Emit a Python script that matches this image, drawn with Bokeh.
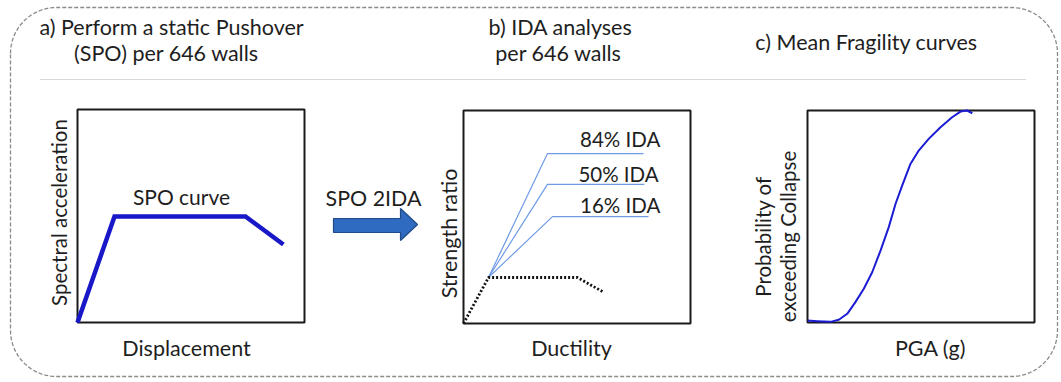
import numpy as np
from bokeh.plotting import figure
from bokeh.models import Range1d
from bokeh.core.properties import value
from bokeh.embed import file_html
from bokeh.resources import INLINE

W, H = 1061, 382
FONT = "Lato"
TXT = "#1e1e1e"

# ---------------- data (panel units, 0..1 of each box) ----------------
title_a = ["a) Perform a static Pushover", "(SPO) per 646 walls"]
title_b = ["b) IDA analyses", "per 646 walls"]
title_c = ["c) Mean Fragility curves"]

spo_disp = [0.0, 0.163, 0.740, 0.907]
spo_sa = [0.0, 0.498, 0.498, 0.366]

ida_base_mu = [0.0, 0.110, 0.502, 0.612]
ida_base_r = [0.0, 0.216, 0.216, 0.150]
ida_labels = ["84% IDA", "50% IDA", "16% IDA"]
ida_knee_mu = [0.370, 0.370, 0.392]
ida_end_mu = [0.793, 0.797, 0.815]
ida_level = [0.798, 0.653, 0.502]

frag_pga = [0.0, 0.043, 0.101, 0.138, 0.175, 0.211, 0.248, 0.285, 0.322, 0.358,
            0.388, 0.417, 0.454, 0.490, 0.534, 0.586, 0.637, 0.674, 0.703, 0.726]
frag_prob = [0.009, 0.006, 0.003, 0.013, 0.041, 0.096, 0.159, 0.237, 0.340, 0.450,
             0.560, 0.646, 0.749, 0.811, 0.866, 0.921, 0.968, 0.995, 1.0, 0.987]

# ---------------- layout (pixels) ----------------
BOX_A = (77, 109, 227, 213)
BOX_B = (463, 110, 227, 213)
BOX_C = (807, 110, 227, 212)


def place(box, xs, ys):
    l, t, w, h = box
    return [l + x * w for x in xs], [t + h - y * h for y in ys]


p = figure(width=W, height=H, x_range=Range1d(0, W), y_range=Range1d(H, 0),
           output_backend="svg", toolbar_location=None, min_border=0,
           background_fill_color="white", border_fill_color="white")
p.axis.visible = False
p.grid.visible = False
p.outline_line_color = None


def txt(x, y, s, size=21, angle=0.0, align="center"):
    p.text(x=[x], y=[y], text=[s], text_font=value(FONT), text_font_size=f"{size}px",
           text_color=TXT, text_align=align, text_baseline="middle", angle=angle)


# rounded dashed border
L, R, T, B, r = 10, 1057, 7, 376, 46
def arc(cx, cy, a0, a1):
    a = np.linspace(a0, a1, 20)
    return list(cx + r * np.cos(a)), list(cy + r * np.sin(a))
bx, by = [], []
for cx, cy, a0, a1 in [(L + r, T + r, np.pi, 1.5 * np.pi), (R - r, T + r, 1.5 * np.pi, 2 * np.pi),
                       (R - r, B - r, 0, 0.5 * np.pi), (L + r, B - r, 0.5 * np.pi, np.pi)]:
    ax, ay = arc(cx, cy, a0, a1)
    bx += ax
    by += ay
bx.append(bx[0]); by.append(by[0])
p.line(bx, by, line_color="#8a8a8a", line_width=1.3, line_dash="4 2")

# separator
p.line([40, 1025], [79, 79], line_color="#b0b0b0", line_width=1, line_dash="1 1")

# titles
txt(171, 26, title_a[0], 21.5)
txt(166, 52, title_a[1], 21.5)
txt(560, 26, title_b[0], 21.5)
txt(558, 52, title_b[1], 21.5)
txt(866, 41, title_c[0], 21.5)

# panel boxes
for (l, t, w, h) in [BOX_A, BOX_B, BOX_C]:
    p.quad(left=[l], right=[l + w], top=[t], bottom=[t + h], fill_color=None,
           line_color="#1a1a1a", line_width=2)

# panel a
xa, ya = place(BOX_A, spo_disp, spo_sa)
p.line(xa, ya, line_color="#1818c8", line_width=4.5, line_join="miter")
txt(181, 196, "SPO curve", 21)
txt(186, 347, "Displacement", 21.5)
txt(58, 212, "Spectral acceleration", 20.5, angle=np.pi / 2)

# arrow
ax_ = [333, 400, 400, 417, 400, 400, 333]
ay_ = [218, 218, 208, 224, 240, 232, 232]
p.patch(ax_, ay_, fill_color="#2f6bc0", line_color="#1f4a86", line_width=1.2)
txt(373, 197, "SPO 2IDA", 21.4)

# panel b
for kmu, emu, lvl, lab in zip(ida_knee_mu, ida_end_mu, ida_level, ida_labels):
    xs, ys = place(BOX_B, [ida_base_mu[1], kmu, emu], [ida_base_r[1], lvl, lvl])
    p.line(xs, ys, line_color="#6f9be6", line_width=1.2)
xb, yb = place(BOX_B, ida_base_mu, ida_base_r)
p.line(xb, yb, line_color="#111111", line_width=2.8, line_dash="2 2")
lx, ly = place(BOX_B, [0.69, 0.683, 0.69], [0.864, 0.704, 0.554])
for x, y, lab in zip(lx, ly, ida_labels):
    txt(x, y, lab, 20.5)
txt(571, 347, "Ductility", 21.5)
txt(448, 233, "Strength ratio", 21.5, angle=np.pi / 2)

# panel c
xc, yc = place(BOX_C, frag_pga, frag_prob)
p.line(xc, yc, line_color="#1c1cd4", line_width=2, line_join="round")
txt(762, 236, "Probability of", 20.5, angle=np.pi / 2)
txt(787, 236, "exceeding Collapse", 20.5, angle=np.pi / 2)
txt(930, 347, "PGA (g)", 21.5)

open("out.html", "w").write(file_html(p, INLINE))
